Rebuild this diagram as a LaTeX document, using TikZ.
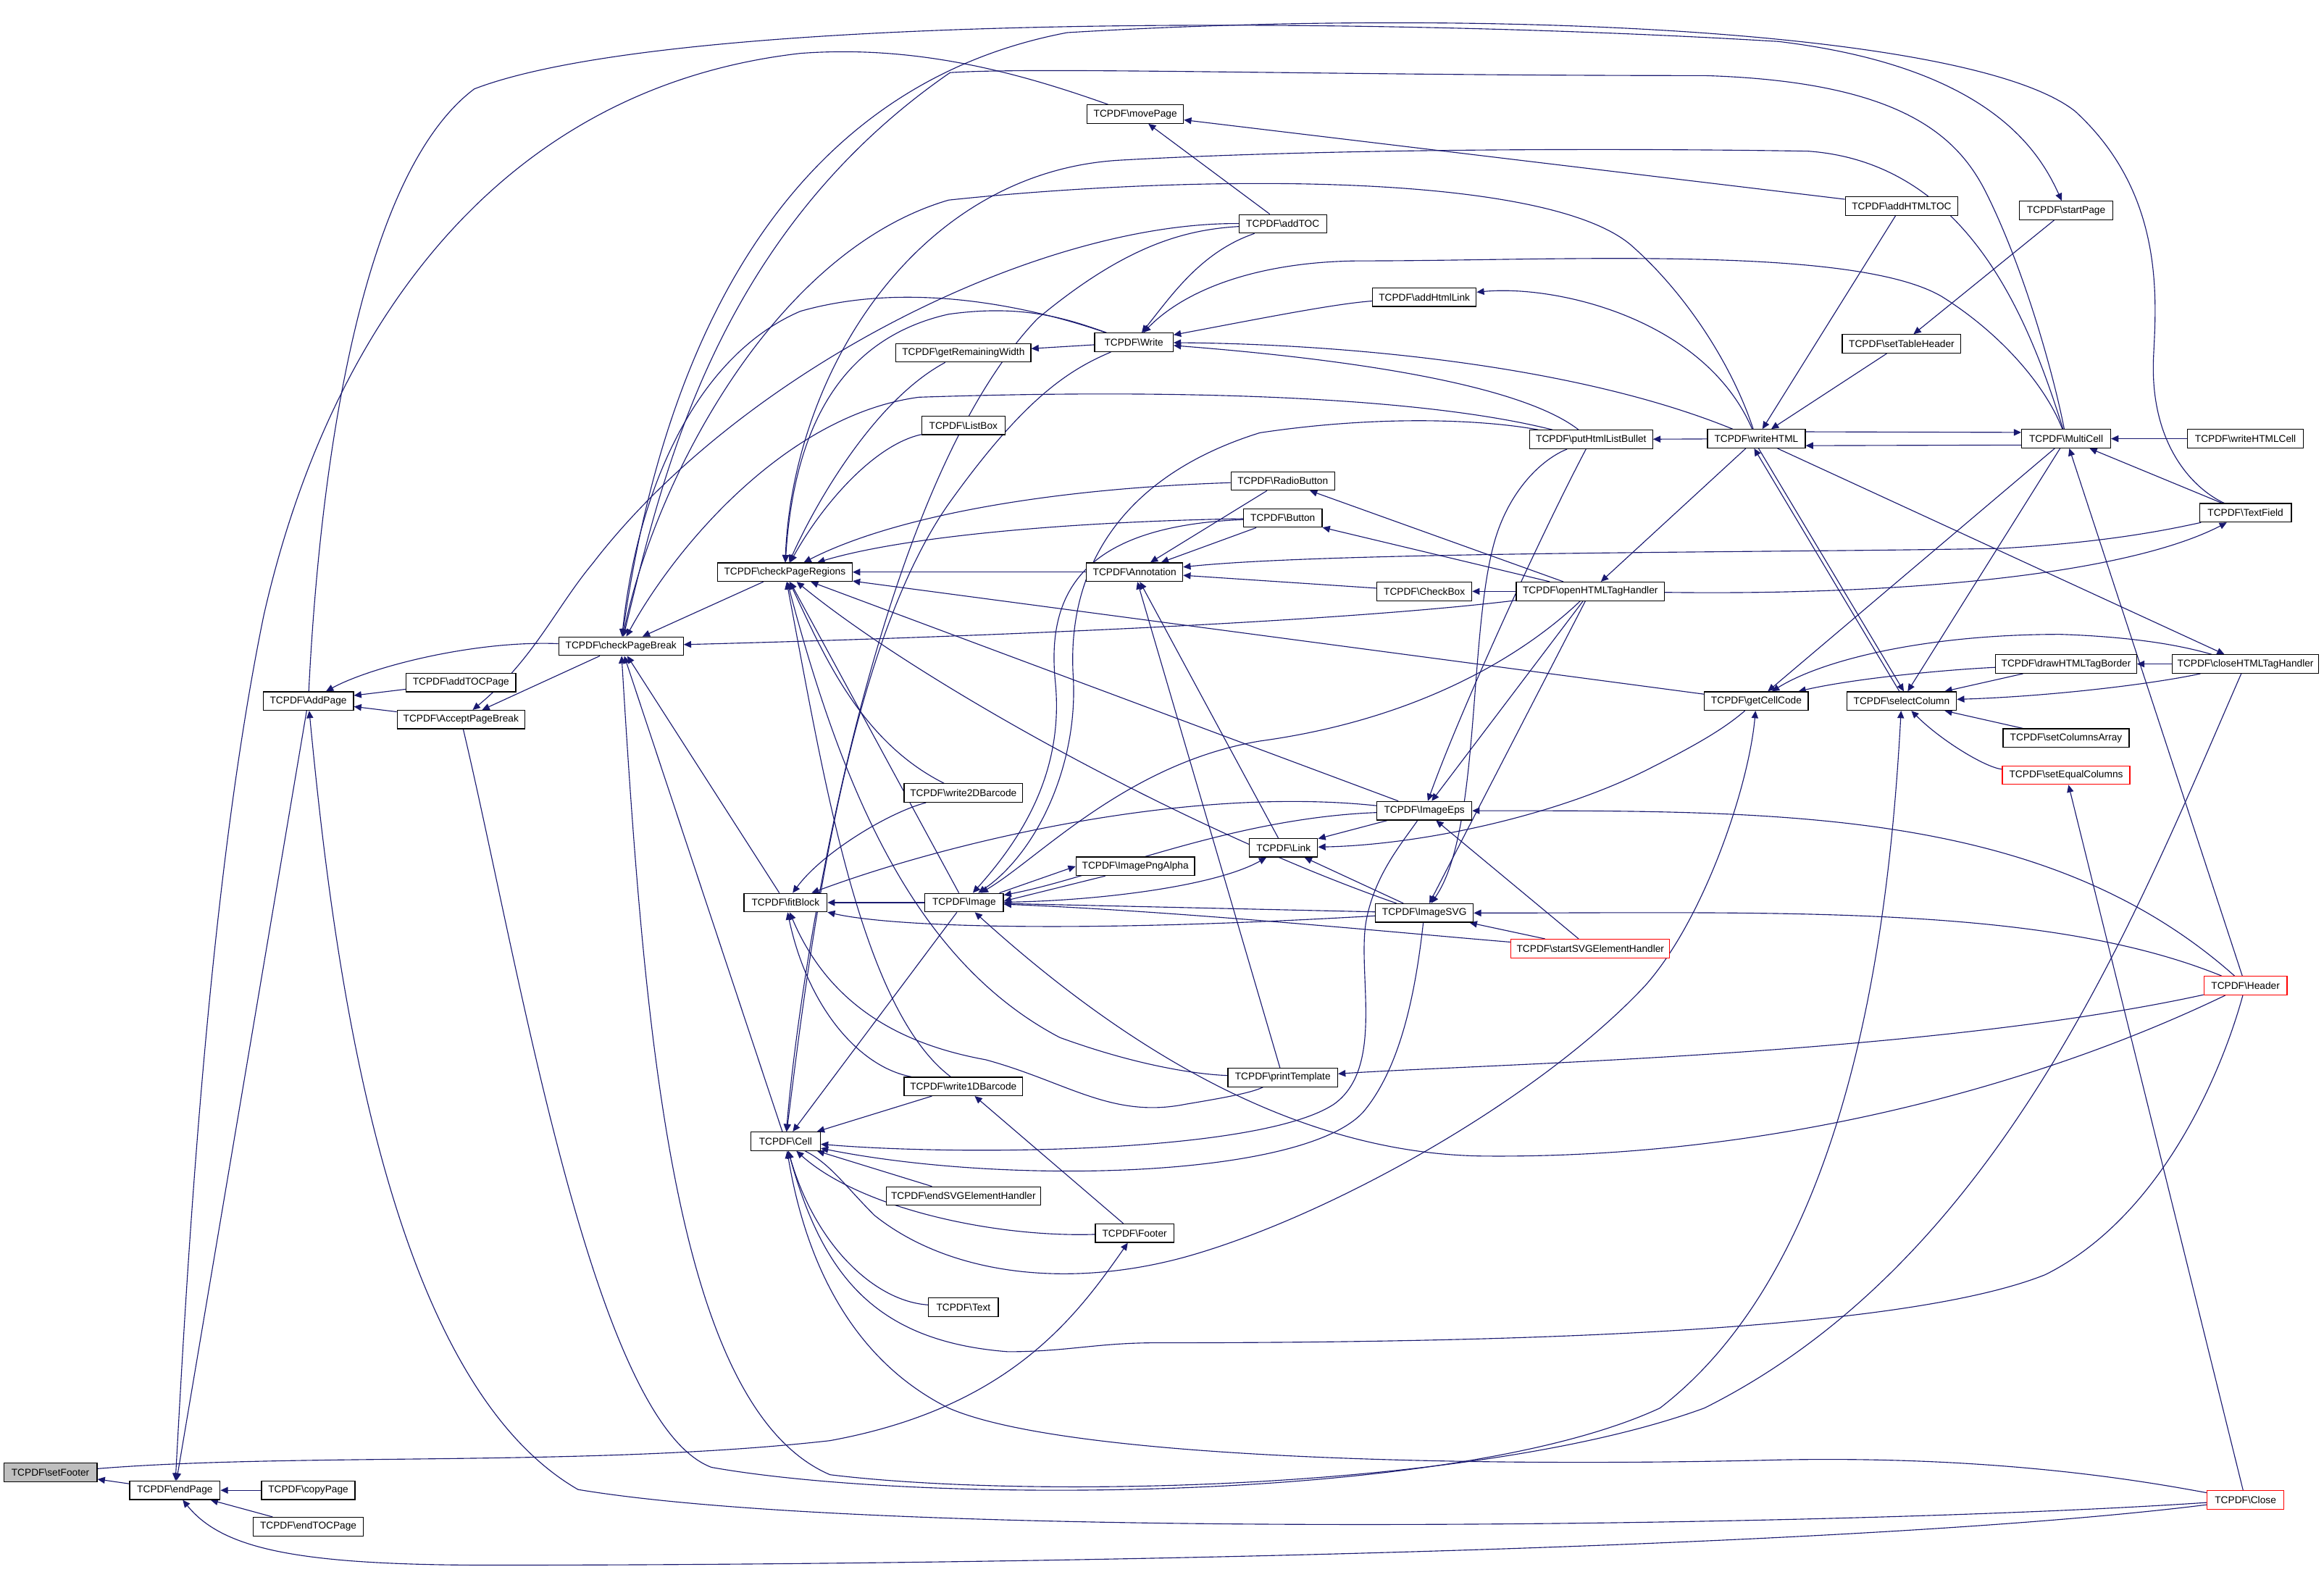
\documentclass[tikz,border=0pt]{standalone}
\usepackage{fontspec}
\setmainfont{Liberation Sans}
\usetikzlibrary{arrows.meta}
\definecolor{ec}{HTML}{191970}
\definecolor{gfill}{HTML}{BFBFBF}
\newcommand\tcpdf{TCPDF\textbackslash}
\pgfdeclarelayer{background}
\pgfsetlayers{background,main}
\begin{document}
\begin{tikzpicture}[x=1pt,y=-1pt,
  nb/.style={draw=black,line width=0.6pt,fill=white,minimum height=12.5pt,inner sep=0pt,font=\fontsize{6.7}{7}\selectfont},
  rb/.style={nb,draw=red},
  edg/.style={draw=ec,line width=0.55pt,arrows={Triangle[length=5pt,width=4.5pt]-}}]
\useasboundingbox (0,0) rectangle (1568,1060.2);
% nodes
\node[nb,minimum width=63pt,fill=gfill] (setFooter) at (34,993.5) {\tcpdf setFooter};
\node[nb,minimum width=61pt] (endPage) at (118,1005.5) {\tcpdf endPage};
\node[nb,minimum width=63pt] (copyPage) at (208,1005.5) {\tcpdf copyPage};
\node[nb,minimum width=74pt] (endTOCPage) at (208,1030) {\tcpdf endTOCPage};
\node[nb,minimum width=61pt] (AddPage) at (208,473) {\tcpdf AddPage};
\node[nb,minimum width=74pt] (addTOCPage) at (311,460.5) {\tcpdf addTOCPage};
\node[nb,minimum width=86pt] (AcceptPageBreak) at (311,485.5) {\tcpdf AcceptPageBreak};
\node[nb,minimum width=84pt] (checkPageBreak) at (419,436) {\tcpdf checkPageBreak};
\node[nb,minimum width=91pt] (checkPageRegions) at (529.5,386) {\tcpdf checkPageRegions};
\node[nb,minimum width=56pt] (fitBlock) at (530,609) {\tcpdf fitBlock};
\node[nb,minimum width=47pt] (Cell) at (530,770) {\tcpdf Cell};
\node[nb,minimum width=91pt] (getRemainingWidth) at (650,238) {\tcpdf getRemainingWidth};
\node[nb,minimum width=56pt] (ListBox) at (650,287) {\tcpdf ListBox};
\node[nb,minimum width=80pt] (write2DBarcode) at (650,535) {\tcpdf write2DBarcode};
\node[nb,minimum width=53pt] (Image) at (650.5,609) {\tcpdf Image};
\node[nb,minimum width=80pt] (write1DBarcode) at (650,733) {\tcpdf write1DBarcode};
\node[nb,minimum width=104pt] (endSVGElementHandler) at (650,807) {\tcpdf endSVGElementHandler};
\node[nb,minimum width=47pt] (Text) at (650,882) {\tcpdf Text};
\node[nb,minimum width=65pt] (movePage) at (766,77) {\tcpdf movePage};
\node[nb,minimum width=53pt] (Write) at (765,231) {\tcpdf Write};
\node[nb,minimum width=65pt] (Annotation) at (765.5,386) {\tcpdf Annotation};
\node[nb,minimum width=80pt] (ImagePngAlpha) at (766,584.5) {\tcpdf ImagePngAlpha};
\node[nb,minimum width=53pt] (Footer) at (765.5,832) {\tcpdf Footer};
\node[nb,minimum width=59pt] (addTOC) at (865.5,151) {\tcpdf addTOC};
\node[nb,minimum width=70pt] (RadioButton) at (865.5,324.5) {\tcpdf RadioButton};
\node[nb,minimum width=53pt] (Button) at (865.5,349.5) {\tcpdf Button};
\node[nb,minimum width=46pt] (Link) at (866,572) {\tcpdf Link};
\node[nb,minimum width=74pt] (printTemplate) at (865.5,727) {\tcpdf printTemplate};
\node[nb,minimum width=70pt] (addHtmlLink) at (961,200.5) {\tcpdf addHtmlLink};
\node[nb,minimum width=64pt] (CheckBox) at (961,399) {\tcpdf CheckBox};
\node[nb,minimum width=64pt] (ImageEps) at (961,547) {\tcpdf ImageEps};
\node[nb,minimum width=66pt] (ImageSVG) at (961,616) {\tcpdf ImageSVG};
\node[nb,minimum width=83pt] (putHtmlListBullet) at (1073.5,296.5) {\tcpdf putHtmlListBullet};
\node[nb,minimum width=100pt] (openHTMLTagHandler) at (1073,399) {\tcpdf openHTMLTagHandler};
\node[rb,minimum width=107pt] (startSVGElementHandler) at (1073,640) {\tcpdf startSVGElementHandler};
\node[nb,minimum width=66pt] (writeHTML) at (1185,296) {\tcpdf writeHTML};
\node[nb,minimum width=70pt] (getCellCode) at (1185,473) {\tcpdf getCellCode};
\node[nb,minimum width=76pt] (addHTMLTOC) at (1283,139) {\tcpdf addHTMLTOC};
\node[nb,minimum width=80pt] (setTableHeader) at (1283,232) {\tcpdf setTableHeader};
\node[nb,minimum width=74pt] (selectColumn) at (1283,473) {\tcpdf selectColumn};
\node[nb,minimum width=63pt] (startPage) at (1394,142) {\tcpdf startPage};
\node[nb,minimum width=60pt] (MultiCell) at (1394,296) {\tcpdf MultiCell};
\node[nb,minimum width=95pt] (drawHTMLTagBorder) at (1394,448) {\tcpdf drawHTMLTagBorder};
\node[nb,minimum width=85pt] (setColumnsArray) at (1394,498) {\tcpdf setColumnsArray};
\node[rb,minimum width=86pt] (setEqualColumns) at (1394,523) {\tcpdf setEqualColumns};
\node[nb,minimum width=78pt] (writeHTMLCell) at (1515,296) {\tcpdf writeHTMLCell};
\node[nb,minimum width=62pt] (TextField) at (1515,346) {\tcpdf TextField};
\node[nb,minimum width=99pt] (closeHTMLTagHandler) at (1515,448) {\tcpdf closeHTMLTagHandler};
\node[rb,minimum width=56pt] (Header) at (1515,665) {\tcpdf Header};
\node[rb,minimum width=52pt] (Close) at (1515,1012) {\tcpdf Close};

\begin{pgfonlayer}{background}
\fill[white] (0,0) rectangle (1568,1060.2);
% left part
\draw[edg] (setFooter) -- (endPage);
\draw[edg] (Footer) .. controls (725,890) and (680,950) .. (560,972) .. controls (400,990) and (200,980) .. (setFooter);
\draw[edg] (endPage) -- (copyPage);
\draw[edg] (endPage) -- (endTOCPage);
\draw[edg] (endPage) -- (AddPage);
\draw[edg] (endPage) .. controls (126,860) and (140,600) .. (178,415) .. controls (220,230) and (330,60) .. (540,36) .. controls (620,30) and (690,50) .. (movePage);
\draw[edg] (endPage) .. controls (150,1045) and (200,1056) .. (330,1056) .. controls (700,1056) and (1250,1045) .. (Close);
\draw[edg] (AddPage) -- (addTOCPage);
\draw[edg] (AddPage) -- (AcceptPageBreak);
\draw[edg] (AddPage) .. controls (250,450) and (320,432) .. (checkPageBreak);
\draw[edg] (AddPage) .. controls (225,650) and (260,930) .. (390,1005) .. controls (600,1040) and (1250,1030) .. (Close);
\draw[edg] (startPage) .. controls (1375,100) and (1340,45) .. (1200,28) .. controls (900,10) and (450,10) .. (320,60) .. controls (240,120) and (215,330) .. (AddPage);
\draw[edg] (AcceptPageBreak) -- (checkPageBreak);
\draw[edg] (AcceptPageBreak) .. controls (360,445) and (375,410) .. (400,380) .. controls (500,250) and (700,150) .. (addTOC);
% checkPageBreak callers
\draw[edg] (checkPageBreak) -- (checkPageRegions);
\draw[edg] (checkPageBreak) .. controls (440,330) and (520,170) .. (640,135) .. controls (800,118) and (1040,115) .. (1100,165) .. controls (1140,200) and (1170,250) .. (writeHTML);
\draw[edg] (checkPageBreak) .. controls (455,370) and (530,280) .. (620,268) .. controls (800,262) and (960,268) .. (putHtmlListBullet);
\draw[edg] (checkPageBreak) .. controls (445,250) and (520,60) .. (720,22) .. controls (1000,5) and (1330,20) .. (1400,75) .. controls (1460,130) and (1455,200) .. (1453,240) .. controls (1450,300) and (1480,330) .. (TextField);
\draw[edg] (checkPageBreak) .. controls (445,330) and (480,160) .. (641,49) .. controls (700,45) and (900,51) .. (1150,51) .. controls (1280,55) and (1320,90) .. (1340,130) .. controls (1365,180) and (1385,250) .. (MultiCell);
\draw[edg] (checkPageBreak) -- (Cell);
\draw[edg] (checkPageBreak) -- (fitBlock);
\draw[edg] (checkPageBreak) .. controls (650,430) and (900,420) .. (openHTMLTagHandler);
\draw[edg] (checkPageBreak) .. controls (430,330) and (470,240) .. (540,210) .. controls (610,190) and (690,205) .. (Write);
\draw[edg] (checkPageBreak) .. controls (435,700) and (455,950) .. (560,995) .. controls (700,1012) and (1000,1005) .. (1150,950) .. controls (1350,850) and (1440,620) .. (closeHTMLTagHandler);
% checkPageRegions callers
\draw[edg] (checkPageRegions) -- (Annotation);
\draw[edg] (checkPageRegions) -- (getCellCode);
\draw[edg] (checkPageRegions) .. controls (550,340) and (590,270) .. (getRemainingWidth);
\draw[edg] (checkPageRegions) .. controls (555,340) and (590,300) .. (ListBox);
\draw[edg] (checkPageRegions) .. controls (600,350) and (700,330) .. (RadioButton);
\draw[edg] (checkPageRegions) .. controls (610,362) and (720,352) .. (Button);
\draw[edg] (checkPageRegions) -- (ImageEps);
\draw[edg] (checkPageRegions) .. controls (620,460) and (800,560) .. (ImageSVG);
\draw[edg] (checkPageRegions) -- (Image);
\draw[edg] (checkPageRegions) .. controls (555,440) and (580,500) .. (write2DBarcode);
\draw[edg] (checkPageRegions) .. controls (555,520) and (580,680) .. (write1DBarcode);
\draw[edg] (checkPageRegions) .. controls (570,540) and (620,650) .. (715,700) .. controls (770,720) and (810,725) .. (printTemplate);
\draw[edg] (checkPageRegions) .. controls (535,300) and (560,230) .. (640,212) .. controls (690,205) and (720,215) .. (Write);
\draw[edg] (checkPageRegions) .. controls (535,250) and (620,115) .. (757,108) .. controls (900,100) and (1100,100) .. (1220,102) .. controls (1330,110) and (1370,220) .. (MultiCell);
% Write and friends
\draw[edg] (getRemainingWidth) -- (Write);
\draw[edg] (Write) .. controls (790,200) and (810,170) .. (addTOC);
\draw[edg] (Write) .. controls (850,215) and (900,205) .. (addHtmlLink);
\draw[edg] (Write) .. controls (800,195) and (850,176) .. (920,176) .. controls (1050,176) and (1250,165) .. (1310,200) .. controls (1350,225) and (1380,260) .. (MultiCell);
\draw[edg] (Write) .. controls (900,232) and (1060,245) .. (writeHTML);
\draw[edg] (Write) .. controls (880,240) and (1020,255) .. (putHtmlListBullet);
\draw[edg] (movePage) -- (addTOC);
\draw[edg] (movePage) -- (addHTMLTOC);
\draw[edg] (Cell) .. controls (540,650) and (590,330) .. (700,215) .. controls (760,165) and (800,155) .. (addTOC);
\draw[edg] (addHtmlLink) .. controls (1050,192) and (1150,215) .. (writeHTML);
\draw[edg] (putHtmlListBullet) -- (writeHTML);
\draw[edg] (MultiCell.172) -- (writeHTML.8);
\draw[edg] (writeHTML.352) -- (MultiCell.188);
\draw[edg] (MultiCell) -- (writeHTMLCell);
\draw[edg] (MultiCell) -- (TextField);
\draw[edg] (MultiCell) -- (Header);
\draw[edg] (writeHTML) -- (setTableHeader);
\draw[edg] (writeHTML) -- (addHTMLTOC);
\draw[edg] ([xshift=-1.5pt]writeHTML.south) -- ([xshift=-1.5pt]selectColumn.north);
\draw[edg] ([xshift=1.5pt]selectColumn.north) -- ([xshift=1.5pt]writeHTML.south);
\draw[edg] (openHTMLTagHandler) -- (writeHTML);
\draw[edg] (closeHTMLTagHandler) -- (writeHTML);
\draw[edg] (setTableHeader) -- (startPage);
% getCellCode / selectColumn
\draw[edg] (getCellCode) -- (MultiCell);
\draw[edg] (getCellCode) .. controls (1250,458) and (1310,452) .. (drawHTMLTagBorder);
\draw[edg] (getCellCode) .. controls (1230,445) and (1300,428) .. (1390,428) .. controls (1450,430) and (1480,438) .. (closeHTMLTagHandler);
\draw[edg] (getCellCode) .. controls (1180,530) and (1150,620) .. (1110,665) .. controls (1040,740) and (900,820) .. (800,848) .. controls (720,870) and (640,860) .. (590,820) .. controls (570,800) and (560,785) .. (Cell);
\draw[edg] (selectColumn) -- (drawHTMLTagBorder);
\draw[edg] (selectColumn) .. controls (1380,470) and (1450,462) .. (closeHTMLTagHandler);
\draw[edg] (selectColumn) -- (setColumnsArray);
\draw[edg] (selectColumn) .. controls (1310,500) and (1340,518) .. (setEqualColumns);
\draw[edg] (selectColumn) -- (MultiCell);
\draw[edg] (selectColumn) .. controls (1275,620) and (1250,850) .. (1120,950) .. controls (980,1015) and (620,1015) .. (480,990) .. controls (400,960) and (350,650) .. (AcceptPageBreak);
\draw[edg] (drawHTMLTagBorder) -- (closeHTMLTagHandler);
\draw[edg] (setEqualColumns) -- (Close);
% Annotation group
\draw[edg] (TextField) .. controls (1440,385) and (1300,402) .. (openHTMLTagHandler);
\draw[edg] (Annotation) .. controls (900,372) and (1200,373) .. (1350,370) .. controls (1420,366) and (1460,358) .. (TextField);
\draw[edg] (Annotation) -- (CheckBox);
\draw[edg] (Annotation) -- (RadioButton);
\draw[edg] (Annotation) -- (Button);
\draw[edg] (CheckBox) -- (openHTMLTagHandler);
\draw[edg] (RadioButton) -- (openHTMLTagHandler);
\draw[edg] (Button) -- (openHTMLTagHandler);
\draw[edg] (Annotation) -- (Link);
\draw[edg] (Annotation) -- (printTemplate);
% Image group
\draw[edg] (fitBlock) -- (Image);
\draw[edg] (ImagePngAlpha.west) -- ([xshift=-3pt]Image.north east);
\draw[edg] ([yshift=1pt]Image.east) -- ([xshift=20pt]ImagePngAlpha.south west);
\draw[edg] (Image) .. controls (690,565) and (718,520) .. (712,460) .. controls (706,400) and (730,355) .. (Button);
\draw[edg] (Image) .. controls (700,575) and (728,515) .. (724,455) .. controls (720,380) and (760,320) .. (850,292) .. controls (930,280) and (1000,283) .. (putHtmlListBullet);
\draw[edg] (Image) .. controls (700,580) and (760,515) .. (850,500) .. controls (960,485) and (1030,440) .. (openHTMLTagHandler);
\draw[edg] (Image) .. controls (800,615) and (950,630) .. (startSVGElementHandler);
\draw[edg] (Image) -- (ImageSVG);
\draw[edg] (Image) .. controls (740,592) and (830,552) .. (ImageEps);
\draw[edg] (Image) .. controls (740,690) and (860,778) .. (1000,780) .. controls (1200,782) and (1380,730) .. (Header);
\draw[edg] (Link) .. controls (820,598) and (740,608) .. (Image);
\draw[edg] (Link) -- (ImageEps);
\draw[edg] (Link) -- (ImageSVG);
\draw[edg] (Link) .. controls (960,570) and (1050,550) .. (1110,520) .. controls (1150,500) and (1165,490) .. (getCellCode);
\draw[edg] (ImageEps) -- (openHTMLTagHandler);
\draw[edg] (ImageEps) .. controls (985,480) and (1040,360) .. (putHtmlListBullet);
\draw[edg] (ImageEps) .. controls (1200,547) and (1380,545) .. (Header);
\draw[edg] (ImageEps) -- (startSVGElementHandler);
\draw[edg] (ImageSVG) -- (openHTMLTagHandler);
\draw[edg] (ImageSVG) .. controls (1000,560) and (990,420) .. (1010,360) .. controls (1020,330) and (1040,310) .. (putHtmlListBullet);
\draw[edg] (ImageSVG) .. controls (1200,616) and (1380,610) .. (Header);
\draw[edg] (ImageSVG) -- (startSVGElementHandler);
% fitBlock
\draw[edg] (fitBlock) .. controls (555,575) and (600,548) .. (write2DBarcode);
\draw[edg] (fitBlock) .. controls (640,568) and (800,530) .. (ImageEps);
\draw[edg] (fitBlock) .. controls (600,625) and (720,630) .. (ImageSVG);
\draw[edg] (fitBlock) .. controls (545,680) and (580,720) .. (write1DBarcode);
\draw[edg] (fitBlock) .. controls (560,680) and (610,705) .. (665,715) .. controls (720,730) and (750,755) .. (800,745) .. controls (830,740) and (845,737) .. (printTemplate);
% Cell
\draw[edg] (Cell) -- (Image);
\draw[edg] (Cell) -- (write1DBarcode);
\draw[edg] (Cell) -- (endSVGElementHandler);
\draw[edg] (Cell) .. controls (580,815) and (670,835) .. (Footer);
\draw[edg] (Cell) .. controls (550,840) and (590,878) .. (Text);
\draw[edg] (Cell) .. controls (650,780) and (850,778) .. (900,745) .. controls (935,720) and (915,655) .. (922,620) .. controls (928,590) and (945,570) .. (ImageEps);
\draw[edg] (Cell) .. controls (680,800) and (880,795) .. (920,750) .. controls (945,720) and (955,670) .. (ImageSVG);
\draw[edg] (Cell) .. controls (555,860) and (590,905) .. (680,912) .. controls (720,912) and (740,906) .. (780,906) .. controls (1000,906) and (1280,900) .. (1380,860) .. controls (1460,820) and (1500,720) .. (Header);
\draw[edg] (Cell) .. controls (545,860) and (580,920) .. (640,950) .. controls (720,985) and (1000,990) .. (1200,985) .. controls (1350,982) and (1450,1000) .. (Close);
\draw[edg] (Cell) .. controls (545,650) and (570,440) .. (640,340) .. controls (690,270) and (720,250) .. (Write);
\draw[edg] (write1DBarcode) -- (Footer);
\draw[edg] (printTemplate) .. controls (1000,718) and (1300,712) .. (Header);
\end{pgfonlayer}
\end{tikzpicture}
\end{document}
